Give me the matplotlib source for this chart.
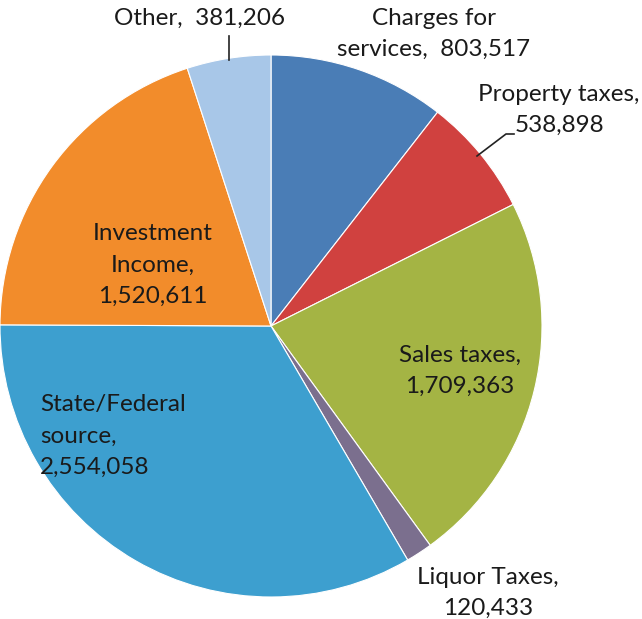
import matplotlib
matplotlib.use("Agg")
import matplotlib.pyplot as plt

categories = ["Charges for\nservices", "Property taxes", "Sales taxes", "Liquor Taxes",
              "State/Federal\nsource", "Investment\nIncome", "Other"]
values = [803517, 538898, 1709363, 120433, 2554058, 1520611, 381206]
colors = ["#4a7db6", "#d0413f", "#a4b444", "#7b6f8e", "#3d9fcf", "#f28c2b", "#a8c7e8"]

# label text, pixel anchor, alignment
label_text = [
    "Charges for\nservices,  803,517",
    "Property taxes,\n538,898",
    "Sales taxes,\n1,709,363",
    "Liquor Taxes,\n120,433",
    "State/Federal\nsource,\n2,554,058",
    "Investment\nIncome,\n1,520,611",
    "Other,  381,206",
]
label_pos = [(434, 34), (559, 110), (460, 371), (488, 593), (40, 436), (153, 265), (199, 18)]
label_ha = ["center", "center", "center", "center", "left", "center", "center"]

W, H = 642, 619
fig = plt.figure(figsize=(W / 100, H / 100), dpi=100)
ax = fig.add_axes([0, 0, 1, 1])

# y axis runs downward, so -90 points up and counterclock=True turns clockwise on screen
cx, cy, r = 271, 326, 271
ax.pie(values, colors=colors, startangle=-90, counterclock=True, radius=r,
       center=(cx, cy), frame=True,
       wedgeprops=dict(edgecolor="white", linewidth=0.8))
ax.set_xlim(0, W)
ax.set_ylim(H, 0)
ax.set_aspect("equal")
ax.axis("off")

for txt, (x, y), ha in zip(label_text, label_pos, label_ha):
    ax.text(x, y, txt, ha=ha, va="center", multialignment=ha,
            fontsize=17.5, color="#1a1a1a", linespacing=1.62, family=["Lato", "DejaVu Sans"])

# leader lines
ax.plot([229, 229], [36, 60], color="#222222", lw=1.2)
ax.plot([477, 506, 514], [156, 134, 134], color="#222222", lw=1.2)

fig.savefig("out.png", dpi=100, facecolor="white")
